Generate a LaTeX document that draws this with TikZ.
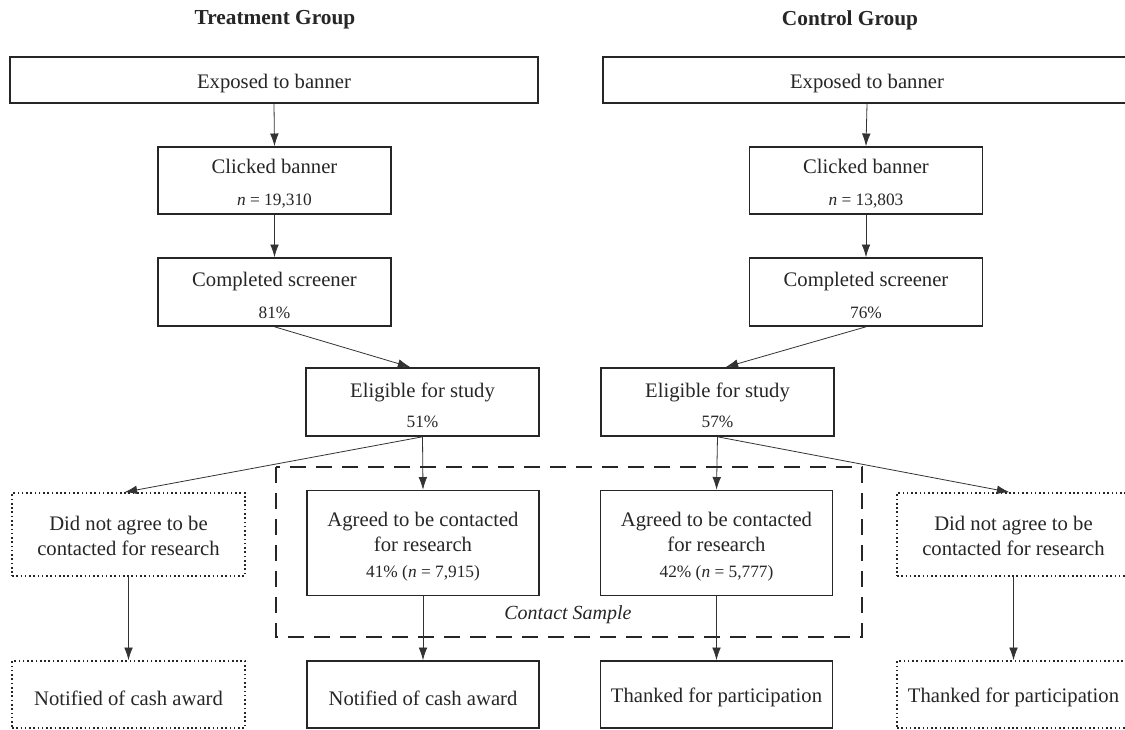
\documentclass[tikz,border=0pt]{standalone}
\usepackage{fontspec}
\setmainfont{Liberation Serif}
\usetikzlibrary{arrows.meta}
\newcommand{\topstrut}{\rule{0pt}{16pt}}
\begin{document}
\begin{tikzpicture}[x=0.75pt,y=-0.75pt,
  every node/.style={font=\fontsize{15.5}{19}\selectfont, text=black!85, inner sep=0pt},
  box/.style={draw=black!85, line width=1.2pt, minimum width=233*0.75pt, align=center},
  dbox/.style={draw=black!85, line width=1.2pt, dotted, minimum width=233*0.75pt, align=center},
  title/.style={font=\fontsize{16}{19}\selectfont\bfseries},
  arr/.style={draw=black!80, line width=0.6pt, -{Latex[length=9.5pt,width=6.5pt]}},
]
\clip (0,0) rectangle (1125,730);
\fill[white] (0,0) rectangle (1125,730);
% titles
\node[title] (tT) at (275,20) {Treatment Group};
\node[title] (tC) at (850,20) {Control Group};
% treatment column
\node[box, minimum width=528*0.75pt, minimum height=46*0.75pt] (expL) at (274,80) {\topstrut Exposed to banner};
\node[box, minimum height=67*0.75pt] (clkL) at (274.5,180.5) {\topstrut Clicked banner\\[5pt]{\fontsize{13}{15}\selectfont\itshape n\upshape{} = 19,310}};
\node[box, minimum height=68*0.75pt] (cmpL) at (274.5,292) {\topstrut Completed screener\\[5pt]{\fontsize{13}{15}\selectfont 81\%}};
\node[box, minimum height=68*0.75pt] (eligL) at (422.5,402) {\topstrut Eligible for study\\[4pt]{\fontsize{13}{15}\selectfont 51\%}};
\node[box, minimum width=232*0.75pt, minimum height=105*0.75pt] (agrL) at (423,543) {\topstrut Agreed to be contacted\\for research\\[0pt]{\fontsize{13}{15}\selectfont 41\% (\textit{n} = 7,915)}};
\node[dbox, minimum height=83*0.75pt] (dnaL) at (128.5,534.5) {\rule{0pt}{13pt}Did not agree to be\\contacted for research};
\node[dbox, minimum height=67*0.75pt] (ncaD) at (128.5,694.5) {\topstrut Notified of cash award};
\node[box, minimum width=232*0.75pt, minimum height=67*0.75pt] (ncaS) at (423,694.5) {\topstrut Notified of cash award};
% control column
\node[box, minimum width=528*0.75pt, minimum height=46*0.75pt] (expR) at (867,80) {\topstrut Exposed to banner};
\node[box, minimum height=67*0.75pt] (clkR) at (866,180.5) {\topstrut Clicked banner\\[5pt]{\fontsize{13}{15}\selectfont\itshape n\upshape{} = 13,803}};
\node[box, minimum height=68*0.75pt] (cmpR) at (866,292) {\topstrut Completed screener\\[5pt]{\fontsize{13}{15}\selectfont 76\%}};
\node[box, minimum height=68*0.75pt] (eligR) at (717.5,402) {\topstrut Eligible for study\\[4pt]{\fontsize{13}{15}\selectfont 57\%}};
\node[box, minimum width=232*0.75pt, minimum height=105*0.75pt] (agrR) at (716.5,543) {\topstrut Agreed to be contacted\\for research\\[0pt]{\fontsize{13}{15}\selectfont 42\% (\textit{n} = 5,777)}};
\node[dbox, minimum height=83*0.75pt] (dnaR) at (1013.5,534.5) {\rule{0pt}{13pt}Did not agree to be\\contacted for research};
\node[box, minimum width=232*0.75pt, minimum height=67*0.75pt] (thkS) at (716.5,694.5) {\topstrut Thanked for participation};
\node[dbox, minimum height=67*0.75pt] (thkD) at (1013.5,694.5) {\topstrut Thanked for participation};
% contact sample frame
\draw[draw=black!85, line width=1.3pt, dash pattern=on 12pt off 7.5pt] (276,467) rectangle (862,637);
\node[font=\fontsize{15}{18}\selectfont\itshape] (cs) at (568,615) {Contact Sample};
% arrows
\draw[arr] (expL.south) -- (clkL.north);
\draw[arr] (clkL.south) -- (cmpL.north);
\draw[arr] (cmpL.south) -- ([xshift=-9pt]eligL.north);
\draw[arr] (eligL.south) -- ([xshift=-3pt]dnaL.north);
\draw[arr] (eligL.south) -- (agrL.north);
\draw[arr] (agrL.south) -- (ncaS.north);
\draw[arr] (dnaL.south) -- (ncaD.north);
\draw[arr] (expR.south) -- (clkR.north);
\draw[arr] (clkR.south) -- (cmpR.north);
\draw[arr] (cmpR.south) -- ([xshift=6pt]eligR.north);
\draw[arr] (eligR.south) -- ([xshift=-3pt]dnaR.north);
\draw[arr] (eligR.south) -- (agrR.north);
\draw[arr] (agrR.south) -- (thkS.north);
\draw[arr] (dnaR.south) -- (thkD.north);
\end{tikzpicture}
\end{document}
